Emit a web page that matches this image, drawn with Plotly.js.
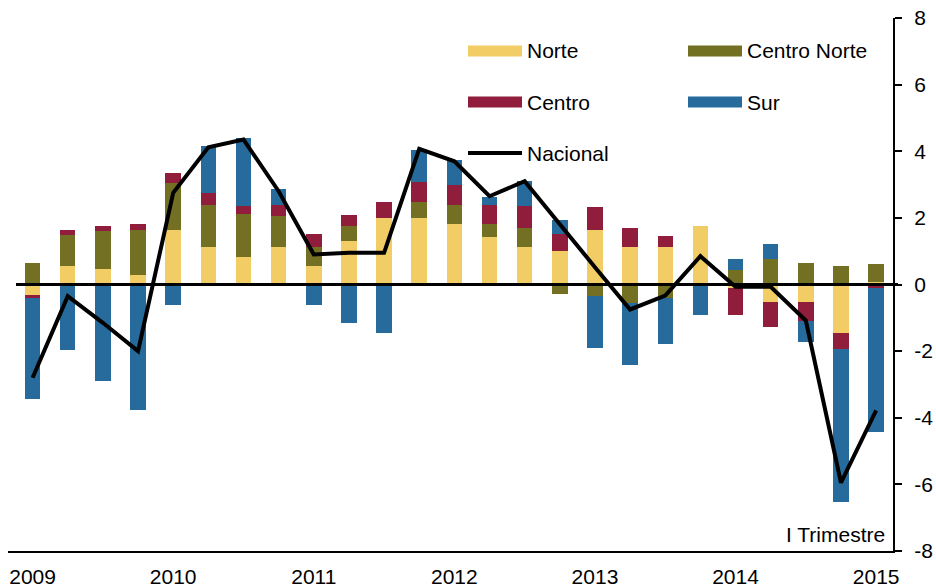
<!DOCTYPE html>
<html>
<head>
<meta charset="utf-8">
<script src="https://cdn.plot.ly/plotly-3.0.1.min.js"></script>
<style>html,body{margin:0;padding:0;background:#fff;}#chart{width:936px;height:587px;}</style>
</head>
<body>
<div id="chart"></div>
<script>
// Quarters 2009-I .. 2015-I
const quarters = ["2009-I","2009-II","2009-III","2009-IV","2010-I","2010-II","2010-III","2010-IV",
  "2011-I","2011-II","2011-III","2011-IV","2012-I","2012-II","2012-III","2012-IV",
  "2013-I","2013-II","2013-III","2013-IV","2014-I","2014-II","2014-III","2014-IV","2015-I"];
const yearLabels = ["2009","2010","2011","2012","2013","2014","2015"];
const yTickVals = [-8, -6, -4, -2, 0, 2, 4, 6, 8];
const yTickText = ["-8", "-6", "-4", "-2", "0", "2", "4", "6", "8"];

const norte = [-0.33, 0.55, 0.48, 0.30, 1.65, 1.12, 0.83, 1.12, 0.55, 1.30, 2.00, 2.00, 1.82, 1.42, 1.12, 1.00,
  1.65, 1.12, 1.12, 1.75, -0.10, -0.53, -0.53, -1.45, 0.08];
const centroNorte = [0.65, 0.93, 1.12, 1.35, 1.40, 1.28, 1.29, 0.93, 0.57, 0.47, 0.00, 0.47, 0.58, 0.40, 0.58, -0.28,
  -0.35, -0.57, -0.40, 0.00, 0.43, 0.77, 0.65, 0.55, 0.55];
const centro = [-0.07, 0.17, 0.15, 0.17, 0.30, 0.35, 0.23, 0.35, 0.40, 0.33, 0.47, 0.60, 0.60, 0.58, 0.65, 0.53,
  0.68, 0.58, 0.35, 0.00, -0.82, -0.74, -0.57, -0.48, -0.10];
const sur = [-3.03, -1.97, -2.90, -3.78, -0.62, 1.40, 2.05, 0.47, -0.62, -1.15, -1.45, 0.98, 0.75, 0.23, 0.77, 0.42,
  -1.57, -1.86, -1.40, -0.92, 0.34, 0.45, -0.63, -4.60, -4.33];
const nacional = [-2.80, -0.35, -1.15, -2.00, 2.75, 4.12, 4.35, 2.80, 0.90, 0.95, 0.95, 4.07, 3.70, 2.65, 3.10, 1.80,
  0.52, -0.75, -0.33, 0.85, -0.07, -0.07, -1.08, -5.95, -3.78];

const names = ["Norte", "Centro Norte", "Centro", "Sur", "Nacional"];
const colors = ["#F2CC64", "#737023", "#8F1D3B", "#266B9B", "#000000"];

const xIdx = quarters.map((q, i) => i);
const yearTicks = yearLabels.map((y, i) => i * 4);
const FONT = "Liberation Sans, Arial, sans-serif";
const FS = 21;

const series = [norte, centroNorte, centro, sur];
const traces = series.map((vals, k) => ({
  type: "bar", x: xIdx, y: vals, name: names[k],
  marker: {color: colors[k], line: {width: 0}}, width: 0.44,
  hovertext: quarters, showlegend: false
}));
traces.push({
  type: "scatter", mode: "lines", x: xIdx, y: nacional, name: names[4],
  line: {color: "#000", width: 4}, hovertext: quarters, showlegend: false
});

// manual legend (paper coords derived from pixel layout)
const L = 8, R = 893, T = 18, B = 551;
const px = v => (v - L) / (R - L);
const py = v => (B - v) / (B - T);
const legendItems = [
  {name: names[0], c: colors[0], x: 468, y: 51, kind: "rect"},
  {name: names[1], c: colors[1], x: 688, y: 51, kind: "rect"},
  {name: names[2], c: colors[2], x: 468, y: 102, kind: "rect"},
  {name: names[3], c: colors[3], x: 688, y: 102, kind: "rect"},
  {name: names[4], c: colors[4], x: 468, y: 153, kind: "line"}
];
const shapes = [{
  type: "line", xref: "paper", yref: "y", x0: px(16), x1: px(898), y0: 0, y1: 0,
  line: {color: "#000", width: 3}, layer: "above"
}];
const annotations = [];
legendItems.forEach(it => {
  if (it.kind === "rect") {
    shapes.push({type: "rect", xref: "paper", yref: "paper", x0: px(it.x), x1: px(it.x + 54),
      y0: py(it.y + 5.5), y1: py(it.y - 5.5), fillcolor: it.c, line: {width: 0}});
  } else {
    shapes.push({type: "line", xref: "paper", yref: "paper", x0: px(it.x), x1: px(it.x + 54),
      y0: py(it.y), y1: py(it.y), line: {color: it.c, width: 4}});
  }
  annotations.push({xref: "paper", yref: "paper", x: px(it.x + 57), y: py(it.y), text: it.name,
    showarrow: false, xanchor: "left", yanchor: "middle", font: {family: FONT, size: FS, color: "#000"}});
});
annotations.push({xref: "paper", yref: "paper", x: px(887), y: py(534), text: "I Trimestre",
  showarrow: false, xanchor: "right", yanchor: "middle", font: {family: FONT, size: FS, color: "#000"}});

const layout = {
  width: 936, height: 587,
  margin: {l: L, r: 936 - R, t: T, b: 587 - B, pad: 0},
  paper_bgcolor: "#fff", plot_bgcolor: "#fff",
  barmode: "relative", bargap: 0,
  font: {family: FONT, size: FS, color: "#000"},
  showlegend: false,
  xaxis: {
    range: [-0.70, 24.48], tickvals: yearTicks, ticktext: yearLabels, ticks: "",
    showline: true, linecolor: "#000", linewidth: 2, showgrid: false, zeroline: false,
    tickfont: {family: FONT, size: FS, color: "#000"}, ticklabelstandoff: 6, fixedrange: true
  },
  yaxis: {
    side: "right", range: [-8, 8], tickvals: yTickVals, ticktext: yTickText, ticks: "outside", ticklen: 7, tickwidth: 2,
    tickcolor: "#000", showline: true, linecolor: "#000", linewidth: 2, showgrid: false, zeroline: false,
    tickfont: {family: FONT, size: FS, color: "#000"}, ticklabelstandoff: 8, fixedrange: true
  },
  shapes: shapes,
  annotations: annotations
};

Plotly.newPlot("chart", traces, layout, {displayModeBar: false, staticPlot: true});
</script>
</body>
</html>
